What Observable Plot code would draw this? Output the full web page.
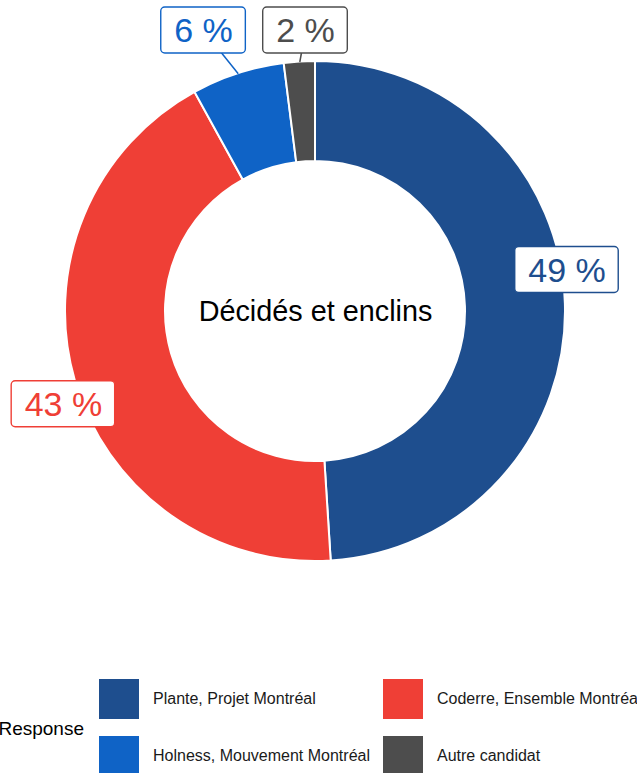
<!DOCTYPE html>
<html><head><meta charset="utf-8">
<script src="https://cdn.jsdelivr.net/npm/d3@7"></script>
<script src="https://cdn.jsdelivr.net/npm/@observablehq/plot@0.6"></script>
<style>
body{margin:0;background:#fff;font-family:"Liberation Sans",Arial,sans-serif;}
#wrap{position:relative;width:637px;height:773px;overflow:hidden;}
#chart{position:absolute;left:0;top:0;}
.sw{position:absolute;width:40px;height:40px;}
.lt{position:absolute;font-size:16px;color:#1a1a1a;white-space:nowrap;line-height:16px;}
#ltitle{position:absolute;font-size:19px;color:#000;white-space:nowrap;line-height:19px;}
</style></head><body>
<div id="wrap"><div id="chart"></div><div id="legend"></div></div>
<script>
// ---- data ----
const categories = ["Plante, Projet Montréal", "Coderre, Ensemble Montréal", "Holness, Mouvement Montréal", "Autre candidat"];
const values = [49, 43, 6, 2];
const labels = ["49 %", "43 %", "6 %", "2 %"];
const colors = ["#1e4e8e", "#ef3f36", "#0f63c6", "#4d4d4d"];
const centerLabel = "Décidés et enclins";
const legendTitle = "Response";
// label nudges (px) from slice midpoint on the outer edge (repel-like placement)
const labelNudge = [[1.6, -33.6], [-12, 23], [-34.7, -43.2], [5.7, -31.5]];
const showSegment = [false, false, true, true];

// ---- geometry ----
const W = 637, H = 640, PX = 250; // px per unit radius
const cx = 315, cy = 311;
const R = 1, r0 = 0.6;
const total = d3.sum(values);
let cum = 0;
const slices = categories.map((c, i) => {
  const a0 = cum / total * 2 * Math.PI; cum += values[i];
  const a1 = cum / total * 2 * Math.PI;
  const am = (a0 + a1) / 2;
  const mx = Math.sin(am) * R, my = Math.cos(am) * R;
  return {category: c, value: values[i], label: labels[i], color: colors[i], a0, a1, mx, my, seg: showSegment[i],
    lx: mx + labelNudge[i][0] / PX, ly: my - labelNudge[i][1] / PX};
});

function arcs(index, scales) {
  const ox = scales.x(0), oy = scales.y(0), k = scales.x(1) - scales.x(0);
  const arc = d3.arc();
  const g = d3.create("svg:g").attr("transform", `translate(${ox},${oy})`);
  g.selectAll("path").data(slices).join("path")
    .attr("d", d => arc({innerRadius: r0 * k, outerRadius: R * k, startAngle: d.a0, endAngle: d.a1}))
    .attr("fill", d => d.color).attr("stroke", "#fff").attr("stroke-width", 2);
  return g.node();
}
const labelFont = 34;
function boxes(index, scales) {
  const ctx = document.createElement("canvas").getContext("2d");
  ctx.font = `${labelFont}px "Liberation Sans"`;
  const g = d3.create("svg:g");
  for (const d of slices) {
    const w = ctx.measureText(d.label).width + 26, h = 46;
    const x = scales.x(d.lx), y = scales.y(d.ly);
    g.append("rect").attr("x", x - w / 2).attr("y", y - h / 2).attr("width", w).attr("height", h)
      .attr("rx", 4).attr("fill", "#fff").attr("stroke", d.color).attr("stroke-width", 1.4);
  }
  return g.node();
}

const chart = Plot.plot({
  width: W, height: H, margin: 0,
  style: {fontFamily: '"Liberation Sans", Arial, sans-serif', background: "#fff"},
  x: {domain: [-cx / PX, (W - cx) / PX], range: [0, W], axis: null},
  y: {domain: [-(H - cy) / PX, cy / PX], range: [H, 0], axis: null},
  marks: [
    arcs,
    Plot.link(slices.filter(d => d.seg), {x1: "lx", y1: "ly", x2: "mx", y2: "my", stroke: d => d.color, strokeWidth: 1.5}),
    boxes,
    Plot.text(slices, {x: "lx", y: "ly", text: "label", fill: d => d.color, fontSize: labelFont, textAnchor: "middle", lineAnchor: "middle", dy: 1}),
    Plot.text([centerLabel], {x: [0], y: [0], text: d => d, fontSize: 28.8, fill: "#000", textAnchor: "middle", lineAnchor: "middle"})
  ]
});
document.getElementById("chart").appendChild(chart);

// ---- legend (HTML, below the SVG) ----
const leg = document.getElementById("legend");
const colX = [99, 383], rowY = [679, 736];
categories.forEach((c, i) => {
  const col = i % 2, row = Math.floor(i / 2);
  const sw = document.createElement("div");
  sw.className = "sw"; sw.style.left = colX[col] + "px"; sw.style.top = rowY[row] + "px"; sw.style.background = colors[i];
  leg.appendChild(sw);
  const t = document.createElement("div");
  t.className = "lt"; t.textContent = c; t.style.left = (colX[col] + 54) + "px"; t.style.top = (rowY[row] + 12) + "px";
  leg.appendChild(t);
});
const lt = document.createElement("div");
lt.id = "ltitle"; lt.textContent = legendTitle; lt.style.right = (637 - 84) + "px"; lt.style.top = "719px";
leg.appendChild(lt);
</script>
</body></html>
